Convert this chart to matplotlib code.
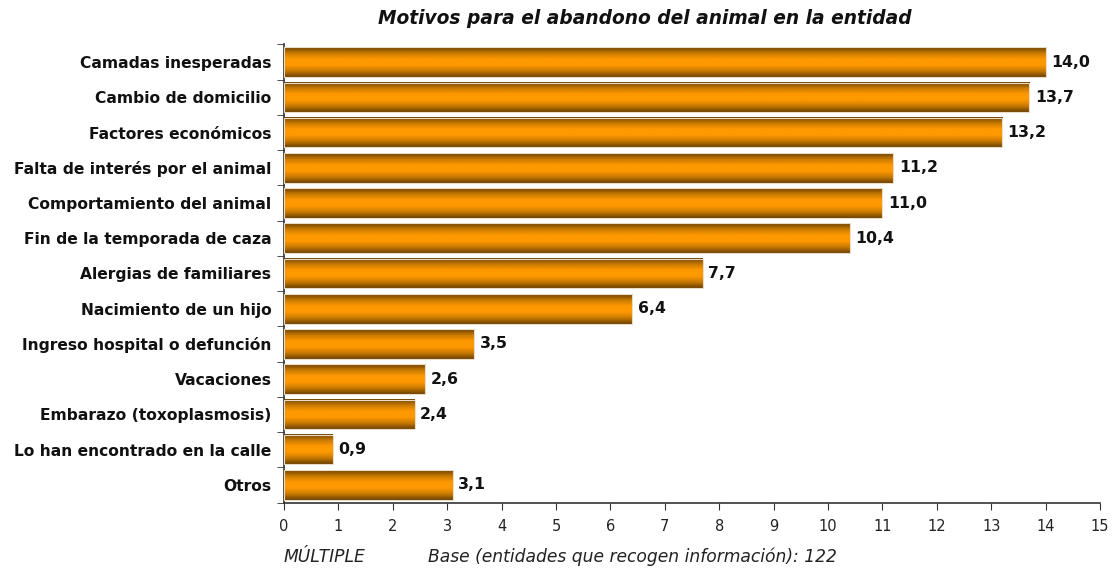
import numpy as np
import matplotlib
matplotlib.use('Agg')
import matplotlib.pyplot as plt
from matplotlib.colors import LinearSegmentedColormap

# Data
categorias = ['Camadas inesperadas', 'Cambio de domicilio', 'Factores económicos',
              'Falta de interés por el animal', 'Comportamiento del animal',
              'Fin de la temporada de caza', 'Alergias de familiares',
              'Nacimiento de un hijo', 'Ingreso hospital o defunción', 'Vacaciones',
              'Embarazo (toxoplasmosis)', 'Lo han encontrado en la calle', 'Otros']
valores = [14.0, 13.7, 13.2, 11.2, 11.0, 10.4, 7.7, 6.4, 3.5, 2.6, 2.4, 0.9, 3.1]
ticks_x = list(range(0, 16))

titulo = 'Motivos para el abandono del animal en la entidad'
nota_izq = 'MÚLTIPLE'
nota_base = 'Base (entidades que recogen información): 122'

plt.rcParams['font.family'] = ['DejaVu Sans']

fig = plt.figure(figsize=(11.18, 5.70), dpi=100)
ax = fig.add_axes([284 / 1118, 1 - 502.5 / 570, (1100 - 284) / 1118, (502.5 - 44.5) / 570])

# gradient: dark brown at edges, orange in the middle
cmap = LinearSegmentedColormap.from_list('naranja', ['#6e4200', '#c97a00', '#ff9900', '#ff9900', '#c97a00', '#6e4200'])
grad = np.linspace(0, 1, 64).reshape(-1, 1)

n = len(categorias)
ypos = np.arange(n)
alto = 0.84
for y, v in zip(ypos, valores):
    ax.imshow(grad, cmap=cmap, aspect='auto', interpolation='bilinear',
              extent=[0, v, y + alto / 2, y - alto / 2], zorder=2)
    ax.text(v + 0.1, y, f'{v:.1f}'.replace('.', ','), va='center', ha='left',
            fontsize=11.3, fontweight='bold', color='#111111')
ax.barh(ypos, valores, height=alto, facecolor='none', edgecolor='#eadcc6', linewidth=0.8, zorder=3)

ax.set_xlim(0, 15)
ax.set_ylim(n - 0.5, -0.5)
ax.set_xticks(ticks_x)
ax.set_xticklabels([str(t) for t in ticks_x], fontsize=10.5, color='#222222')
ax.set_yticks(ypos)
ax.set_yticklabels(categorias, fontsize=11.2, fontweight='bold', color='#111111')
ax.tick_params(axis='y', length=0, pad=9)
ax.set_yticks(np.arange(-0.5, n, 1), minor=True)
ax.tick_params(axis='y', which='minor', length=5, direction='out', color='#333333')
ax.tick_params(axis='x', length=5, direction='out', color='#333333', pad=7)

for s in ['top', 'right']:
    ax.spines[s].set_visible(False)
for s in ['left', 'bottom']:
    ax.spines[s].set_color('#333333')
    ax.spines[s].set_linewidth(1.2)

fig.text(645 / 1118, 1 - 18 / 570, titulo, ha='center', va='center',
         fontsize=13.4, fontweight='bold', fontstyle='italic', color='#111111')
fig.text(284 / 1118, 1 - 557 / 570, nota_izq, ha='left', va='center',
         fontsize=12.3, fontstyle='italic', color='#222222')
fig.text(428 / 1118, 1 - 557 / 570, nota_base, ha='left', va='center',
         fontsize=12.3, fontstyle='italic', color='#222222')

fig.savefig('out.png', dpi=100)
